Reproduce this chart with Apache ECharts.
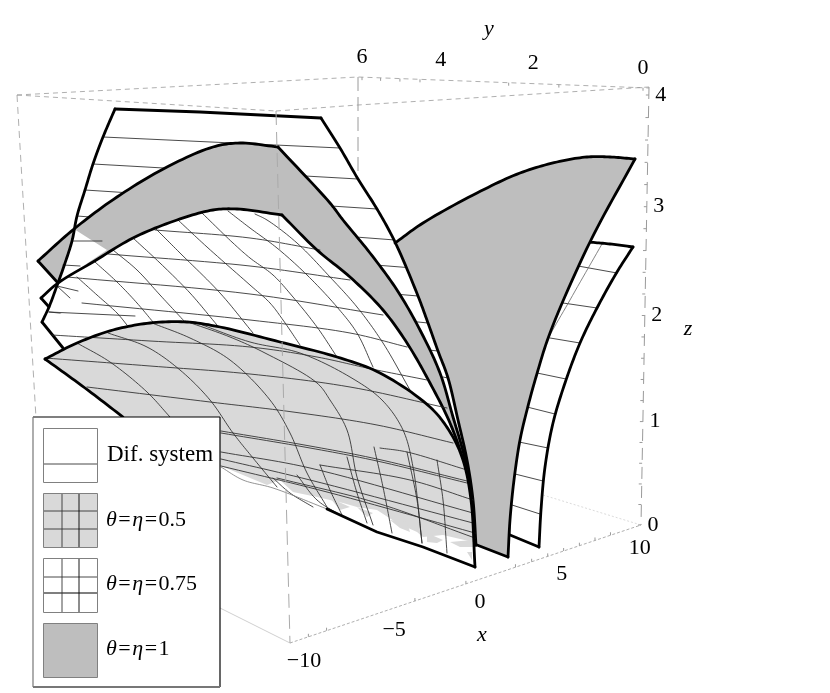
<!DOCTYPE html>
<html><head><meta charset="utf-8">
<style>html,body{margin:0;padding:0;background:#fff}#c{width:830px;height:693px}</style>
<script src="https://cdn.jsdelivr.net/npm/echarts@6/dist/echarts.min.js"></script>
</head><body><div id="c"></div>
<script>
// ---- tick values and labels
const xTickValues=[-9,-8,-3,0,3,4,5,6,7,8,9];
const xLabelValues=[-10,-5,0,5,10];
const xLabelTexts=['\u221210','\u22125','0','5','10'];
const yTickValues=[6,5.5,5,4.5,2.5,1.5,0];
const yLabelValues=[6,4,2,0];
const yLabelTexts=['6','4','2','0'];
const zTickValues=[0,.2,.4,.6,.8,1,1.2,1.4,1.6,1.8,2,2.2,2.4,2.6,2.8,3,3.2,3.4,3.6,3.8,4];
const zLabelValues=[0,1,2,3,4];
const zLabelTexts=['0','1','2','3','4'];
// ---- picture-plane readings (the surfaces are a projected 3D view)
const boxBack=[[[17,95],[358,77],[649,88]],[[17,95],[276,111]],[[276,111],[358,105],[649,87]]];
const boxBackVertical=[[358,77],[358,172]];
const boxLeftVertical=[[17,95],[36,418]];
const boxRightVertical=[[649,87],[641,525]];
const boxFrontVertical=[[276,111],[290,643]];
const floorFront=[[290,643],[641,525]];
const floorLeft=[[220,608],[290,643]];
const floorRight=[[543,495],[641,525]];

const rightTop=[[588,242],[610,244],[633,247]];
const rightOuter=[[633,247],[617,272],[597,308],[580,343],[565,383],[553,423],[545,467],[541,510],[539,547]];
const rightBottom=[[539,547],[510,535]];
const rightHidden=[[510,535],[510,480],[530,380],[588,242]];
const rightRungs=[[[578,266],[617,273]],[[563,303],[597,308]],[[550,338],[580,343]],[[537,373],[566,379]],[[527,407],[555,414]],[[519,442],[548,448]],[[515,474],[543,481]],[[512,505],[540,514]]];
const rightThin=[[602,244],[570,300],[545,345],[533,377],[522,420],[515,460],[511,500],[510,535]];

const difTop=[[115,109],[200,112],[321,118]];
const difRight=[[321,118],[340,148],[358,179],[377,209],[395,242],[418,296],[428,323],[438,351],[448,378],[458,420],[467,460],[473,500],[476,545]];
const difLeft=[[115,109],[103,137],[93,164],[85,190],[77,216],[72,241],[64,266],[58,283],[49,307],[42,322]];
const difCorner=[[42,322],[63,348]];
const difRungs=[[[103,137],[340,148]],[[93,164],[358,179]],[[85,190],[377,209]],[[77,216],[395,240]],[[72,241],[413,268]],[[64,266],[418,296]],[[57,286],[428,323]],[[49,312],[438,351]],[[443,377],[448,378]]];
const difStubs=[[[72,241],[102,241]],[[63,265],[80,266]],[[57,286],[78,291]],[[49,312],[135,316]]];

const grayTop=[[38,261],[74,229],[117,197],[167,167],[213,147],[240,143],[278,147]];
const grayRight=[[278,147],[330,203],[343,220],[370,253],[397,290],[420,330],[440,373],[453,417],[464,455],[473,500],[476,545]];
const grayCorner=[[38,261],[58,283]];
const grayPatch=[[74,229],[107,250],[58,283],[64,266],[72,241]];
const grayFrontTop=[[395,243],[423,223],[477,193],[520,173],[557,162],[587,157],[610,157],[635,159]];
const grayFrontRight=[[635,159],[590,242],[550,333],[536,377],[527,410],[520,440],[514,480],[510,520],[508,557]];
const grayFrontBottom=[[508,557],[477,545]];

const midTop=[[41,298],[58,283],[93,262],[133,238],[177,220],[213,210],[237,209],[282,215]];
const midRight=[[282,215],[317,250],[350,277],[383,310],[407,343],[430,383],[450,423],[463,460],[472,505],[476,545]];
const midCorner=[[41,298],[49,307]];
const midArcs=[
 [[77,277],[97,295],[117,313],[127,325]],
 [[95,262],[117,282],[137,303],[153,322]],
 [[113,250],[137,270],[160,295],[185,322]],
 [[133,238],[160,263],[190,293],[217,325]],
 [[155,228],[180,253],[220,293],[253,333]],
 [[178,220],[207,247],[250,285],[270,303],[283,320],[300,345]],
 [[202,213],[233,243],[250,258],[273,275],[293,297],[317,327],[337,357]],
 [[228,211],[250,228],[277,248],[307,275],[337,307],[357,333],[373,367]],
 [[255,214],[267,220],[297,243],[330,277],[357,307],[383,343],[410,390]],
 [[57,286],[70,298]]];
const midRungs=[
 [[155,230],[250,238],[320,250]],
 [[108,254],[250,266],[350,280]],
 [[67,277],[250,294],[383,315]],
 [[82,303],[250,320],[350,333],[407,347]]];
const crossRung=[[52,335],[150,341],[250,347],[317,357],[367,368],[427,380]];

const lowTop=[[45,359],[77,343],[113,330],[150,323],[187,322],[220,327],[280,342],[337,357],[380,373],[430,407],[450,432],[463,460],[471,500],[475,567]];
const lowFringe=[[475,567],[473,542],[443,535],[423,537],[417,532],[397,523],[377,510],[357,507],[343,503],[317,497],[293,492],[280,480],[267,485],[243,475],[221,466],[123,417]];
const lowEdgeLeft=[[45,359],[85,388],[123,417]];
const lowEdgeThin=[[221,467],[243,480],[273,488],[327,509]];
const lowEdgeRight=[[327,509],[377,532],[423,547],[475,567]];
const lowBlotches=[
 [[390,520],[407,522],[410,532],[400,528]],
 [[427,533],[443,540],[437,543],[427,542]],
 [[450,542],[472,540],[473,547],[460,547]],
 [[357,507],[373,513],[367,517]],
 [[330,498],[350,507],[340,510]],
 [[467,552],[472,552],[472,560]]];
const lowArcs=[
 [[77,343],[110,362],[147,392],[170,417]],
 [[108,333],[147,347],[180,370],[210,400],[233,433],[253,458],[277,487]],
 [[152,323],[190,338],[230,360],[270,400],[290,433],[307,473],[327,507]],
 [[185,321],[230,337],[265,353],[317,383],[330,400],[347,430],[357,477],[373,525]],
 [[197,323],[250,342],[300,353],[350,377],[382,400],[403,430],[413,467],[422,543]],
 [[273,478],[290,493],[313,507]],
 [[297,475],[317,500],[340,515]],
 [[320,465],[330,490],[342,515]],
 [[347,457],[357,493],[367,523]],
 [[374,447],[383,487],[392,533]],
 [[407,452],[417,500],[422,543]],
 [[437,460],[443,500],[447,553]]];
const lowRungs=[
 [[45,358],[150,366],[250,374],[350,387],[447,408]],
 [[87,387],[210,402],[293,412],[377,425],[453,443]],
 [[221,431],[310,446],[377,459],[467,481]],
 [[221,433],[310,448],[377,461],[467,483]],
 [[380,448],[407,452],[467,470]],
 [[320,465],[410,480],[473,500]],
 [[221,452],[310,468],[473,513]],
 [[221,459],[310,480],[473,523]],
 [[221,466],[327,492],[475,533]],
 [[277,478],[377,503],[475,538]]];

// ---- colours and text styles
const INK='#000',MESH='#2a2a2a',BOX='#9a9a9a',GRAY='#bebebe',LIGHT='#d9d9d9',EDGE=2.8,SERIF='"Liberation Serif"';

// ---- axis projections along the box edges
function persp(t,k){return t*k/(1+(k-1)*t);}
function along(a,b,f){return [a[0]+(b[0]-a[0])*f,a[1]+(b[1]-a[1])*f];}
const xAt=v=>along(floorFront[0],floorFront[1],persp((v+10)/21,1.105));
const yAt=v=>{const f=persp((6-v)/6,.78);const x=362+281*f;return [x,77+(88-77)*(x-358)/(649-358)];};
const zAt=v=>{const y=525-430*persp(v/4,.95);return [641+8*(525-y)/438,y];};

// centripetal Catmull-Rom drawing of a read polyline (screen rendering only)
function curve(pts){
 if(pts.length<3)return pts.slice();
 const out=[];const dist=(a,b)=>Math.max(1e-3,Math.sqrt(Math.hypot(b[0]-a[0],b[1]-a[1])));
 const lerp=(a,b,ta,tb,t)=>[a[0]+(b[0]-a[0])*(t-ta)/(tb-ta),a[1]+(b[1]-a[1])*(t-ta)/(tb-ta)];
 for(let i=0;i<pts.length-1;i++){
  const p1=pts[i],p2=pts[i+1];
  const p0=i?pts[i-1]:[2*p1[0]-p2[0],2*p1[1]-p2[1]];
  const p3=i<pts.length-2?pts[i+2]:[2*p2[0]-p1[0],2*p2[1]-p1[1]];
  const t0=0,t1=t0+dist(p0,p1),t2=t1+dist(p1,p2),t3=t2+dist(p2,p3);
  for(let s=0;s<12;s++){const t=t1+(t2-t1)*s/12;
   const a1=lerp(p0,p1,t0,t1,t),a2=lerp(p1,p2,t1,t2,t),a3=lerp(p2,p3,t2,t3,t);
   const b1=lerp(a1,a2,t0,t2,t),b2=lerp(a2,a3,t1,t3,t);
   out.push(lerp(b1,b2,t1,t2,t));}
 }
 out.push(pts[pts.length-1]);return out;
}

const series=[];let order=2;
function add(s){s.z=order++;s.silent=true;s.animation=false;series.push(s);}
function poly(points,fill){add({type:'custom',coordinateSystem:'cartesian2d',clip:false,data:points,
 renderItem:(p,api)=>p.dataIndex?null:{type:'polygon',shape:{points:points.map(q=>api.coord(q))},style:{fill:fill,stroke:null}}});}
function line(points,width,color,opt){opt=opt||{};
 if(opt.dash){add({type:'line',coordinateSystem:'cartesian2d',data:points,symbol:'none',clip:false,
  lineStyle:{width:width,color:color,type:opt.dash}});return;}
 const dense=opt.smooth===false?points:curve(points);
 add({type:'custom',coordinateSystem:'cartesian2d',clip:false,data:points,
  renderItem:(p,api)=>p.dataIndex?null:{type:'polyline',shape:{points:dense.map(q=>api.coord(q))},
   style:{fill:null,stroke:color,lineWidth:width,lineCap:'round',lineJoin:'round'}}});}
const edge=p=>line(p,EDGE,INK);
const straight=p=>line(p,EDGE,INK,{smooth:false});
const mesh=list=>list.forEach(p=>line(p,.85,MESH));
function ticks(values,at,dx,dy){const segs=values.map(v=>{const a=at(v);return [a,[a[0]+dx,a[1]+dy]];});
 add({type:'custom',coordinateSystem:'cartesian2d',clip:false,data:segs.map((s,i)=>i),
  renderItem:(p,api)=>{const s=segs[p.dataIndex];const a=api.coord(s[0]),b=api.coord(s[1]);
   return {type:'line',shape:{x1:a[0],y1:a[1],x2:b[0],y2:b[1]},style:{stroke:BOX,lineWidth:1}};}});}
function labels(values,texts,at,dx,dy,italic){add({type:'custom',coordinateSystem:'cartesian2d',clip:false,data:values.map((v,i)=>i),
 renderItem:(p,api)=>{const a=at(values[p.dataIndex]);const c=api.coord([a[0]+dx,a[1]+dy]);
  return {type:'text',style:{text:texts[p.dataIndex],x:c[0],y:c[1],fill:'#000',align:'center',verticalAlign:'middle',
   font:(italic?'italic ':'')+'22px '+SERIF}};}});}

// box behind the surfaces
boxBack.forEach(p=>line(p,.8,BOX,{dash:[5,4]}));
line(boxBackVertical,1,BOX,{dash:[14,6]});
line(boxLeftVertical,.8,BOX,{dash:[7,5]});
line(boxRightVertical,1,BOX,{dash:[12,7]});
line(floorFront,.8,BOX,{dash:[3,2]});
line(floorLeft,.7,'#bbb',{smooth:false});
line(floorRight,.7,'#ccc',{dash:[2,2]});
ticks(xTickValues,xAt,0,-3);
ticks(yTickValues,yAt,0,3);
ticks(zTickValues,zAt,-3,0);

// right white sheet
poly([...curve(rightTop),...curve(rightOuter),...curve(rightHidden)],'#fff');
mesh(rightRungs);
line(rightThin,.8,'#666');
edge(rightTop);edge(rightOuter);straight(rightBottom);

// back white sheet
poly([...difTop,...curve(difRight),[63,348],[42,322],...curve(difLeft).reverse()],'#fff');
mesh(difRungs);
straight(difTop);

// dark sheet, left wing
poly([...curve(grayTop),...curve(grayRight),[58,283]],GRAY);
poly([...grayPatch],'#fff');
edge(grayTop);edge(grayRight);straight(grayCorner);
difStubs.slice(0,2).forEach(p=>line(p,.85,MESH,{smooth:false}));
edge(difLeft.slice(0,8));

// white gridded sheet
poly([...curve(midTop),...curve(midRight),[49,307]],'#fff');
mesh(midArcs);mesh(midRungs);
difStubs.slice(2).forEach(p=>line(p,.85,MESH,{smooth:false}));
edge(midTop);edge(midRight);straight(midCorner);
edge(difLeft.slice(7));straight(difCorner);

// dark sheet, right wing
poly([...curve(grayFrontTop),...curve(grayFrontRight),...curve(difRight.slice(4)).reverse()],GRAY);
edge(grayFrontTop);edge(grayFrontRight);straight(grayFrontBottom);
edge(difRight);

// light sheet
poly([...curve(lowTop),...lowFringe,[85,388]],LIGHT);
lowBlotches.forEach(p=>poly(p,LIGHT));
mesh(lowArcs);mesh(lowRungs);
line(crossRung,.85,MESH);
line(lowEdgeThin,.8,'#777');
edge(lowTop);straight(lowEdgeRight);edge(lowEdgeLeft);

// front edge, labels
line(boxFrontVertical,1,'#aaa',{dash:[14,7]});
labels(xLabelValues,xLabelTexts,xAt,14,18);
labels(yLabelValues,yLabelTexts,yAt,0,-20);
labels(zLabelValues,zLabelTexts,zAt,12,0);

const axisNames=[['x',[482,635]],['y',[489,29]],['z',[688,329]]];
labels([0,1,2],axisNames.map(a=>a[0]),i=>axisNames[i][1],0,0,true);

// legend panel
const legendBox={x:33,y:417,w:187,h:270};
const swatches=[
 {y:428,fill:'#fff',h:[464],v:[]},
 {y:493,fill:LIGHT,h:[511,529],v:[62,79]},
 {y:558,fill:'#fff',h:[577,593],v:[62,79]},
 {y:623,fill:GRAY,h:[],v:[]}];
const legendLabels=['Dif. system','0.5','0.75','1'];
const g=[];
g.push({type:'rect',z:1000,shape:{x:legendBox.x,y:legendBox.y,width:legendBox.w,height:legendBox.h},style:{fill:'#fff'}});
const L=(x1,y1,x2,y2,c,w)=>g.push({type:'line',z:1002,shape:{x1,y1,x2,y2},style:{stroke:c,lineWidth:w}});
L(33,417,220,417,'#000',1.2);L(220,417,220,687,'#000',1.2);L(33,417,33,687,'#777',1.2);L(33,687,220,687,'#777',2);
swatches.forEach((s,i)=>{
 g.push({type:'rect',z:1001,shape:{x:43.5,y:s.y+.5,width:54,height:54},style:{fill:s.fill,stroke:'#808080',lineWidth:1}});
 s.h.forEach((y,j)=>L(44,y,97,y,i==2&&j==1?'#555':'#333',i==2&&j==1?1.5:.9));
 s.v.forEach((x,j)=>L(x,s.y+1,x,s.y+54,j==1?'#000':'#333',.9));
});
const rich={i:{font:'italic 22px '+SERIF,fill:'#000'},o:{font:'22px '+SERIF,fill:'#000',padding:[0,1.5,0,1.5]},n:{font:'22px '+SERIF,fill:'#000'}};
g.push({type:'text',z:1003,style:{x:107,y:455,text:'Dif. system',font:'23px '+SERIF,fill:'#000',verticalAlign:'middle'}});
[[1,520],[2,584],[3,649]].forEach(([i,y])=>g.push({type:'text',z:1003,style:{x:106,y:y,verticalAlign:'middle',rich:rich,
 text:'{i|\u03b8}{o|=}{i|\u03b7}{o|=}{n|'+legendLabels[i]+'}'}}));

echarts.init(document.getElementById('c'),null,{renderer:'canvas'}).setOption({
 animation:false,backgroundColor:'#fff',
 grid:{left:0,right:0,top:0,bottom:0},
 xAxis:{type:'value',min:0,max:830,show:false},
 yAxis:{type:'value',min:0,max:693,inverse:true,show:false},
 series:series,graphic:{elements:g}
});
</script></body></html>
